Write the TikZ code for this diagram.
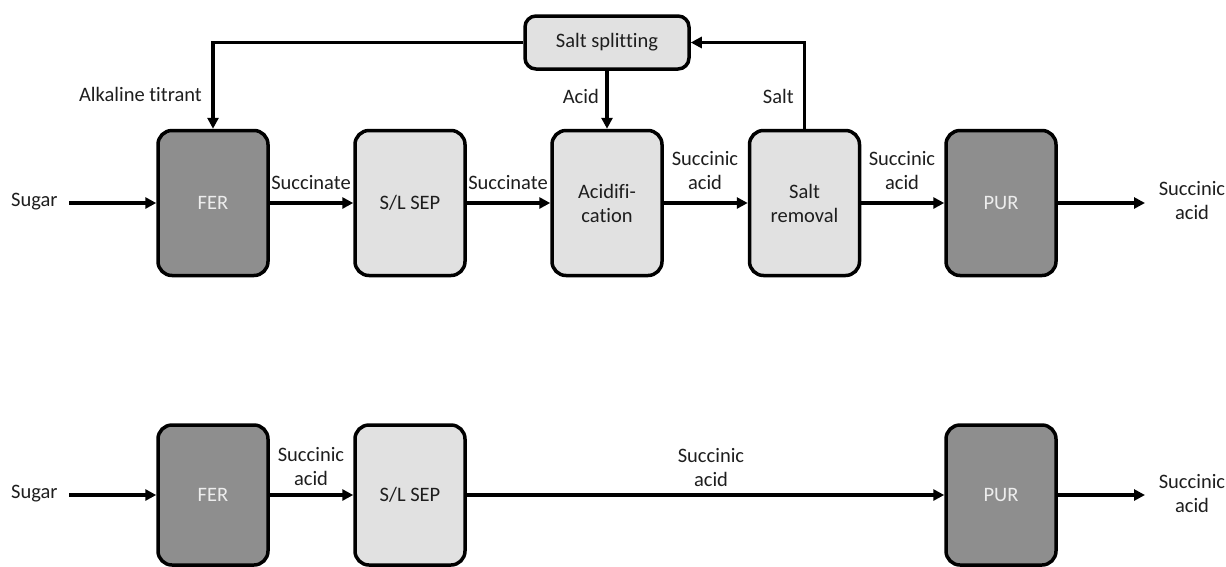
\documentclass[tikz,border=0pt]{standalone}
\usepackage{fontspec}
\setmainfont{Carlito}[Ligatures={NoCommon}]
\usetikzlibrary{arrows.meta}
\definecolor{darkbox}{HTML}{8E8E8E}
\definecolor{lightbox}{HTML}{E1E1E1}
\definecolor{txt}{HTML}{1E1E1E}
\definecolor{boxtxt}{HTML}{EDEDED}
\begin{document}
\begin{tikzpicture}[x=1pt,y=-1pt,
  box/.style={draw=black, line width=3.5pt, rounded corners=14pt, minimum width=110pt, minimum height=145pt, inner sep=0pt, align=center, font=\fontsize{20.5}{24}\selectfont, text=txt},
  darkb/.style={box, fill=darkbox, text=boxtxt},
  lightb/.style={box, fill=lightbox},
  flow/.style={line width=3.3pt, -{Triangle[length=11pt,width=11pt]}},
  lbl/.style={font=\fontsize{20.5}{24}\selectfont, text=txt, align=center, inner sep=0pt}]
\useasboundingbox (0,0) rectangle (1226,566);

% ---- top row ----
\node[darkb]  (fer1) at (213,203) {FER};
\node[lightb] (sep1) at (410,203) {S/L SEP};
\node[lightb] (acd)  at (607,203) {Acidifi-\\cation};
\node[lightb] (srm)  at (804.5,203) {Salt\\removal};
\node[darkb]  (pur1) at (1001,203) {PUR};
\node[lightb, minimum width=164pt, minimum height=53pt, rounded corners=11pt] (spl) at (607,42.5) {Salt splitting};

\node[lbl, anchor=west] (sug1) at (11,202) {Sugar};
\coordinate (in1) at (69,203);
\coordinate (out1) at (1145,203);

\draw[flow] (in1) -- (fer1.west);
\draw[flow] (fer1.east) -- (sep1.west);
\draw[flow] (sep1.east) -- (acd.west);
\draw[flow] (acd.east) -- (srm.west);
\draw[flow] (srm.east) -- (pur1.west);
\draw[flow] (pur1.east) -- (out1);
\draw[flow] (spl.west) -| (fer1.north);
\draw[flow] (spl.south) -- (acd.north);
\draw[flow] (srm.north) |- (spl.east);

\node[lbl] (l1) at (311,183) {Succinate};
\node[lbl] (l2) at (508,183) {Succinate};
\node[lbl] (l3) at (705,171) {Succinic\\acid};
\node[lbl] (l4) at (902,171) {Succinic\\acid};
\node[lbl] (l5) at (1192,201) {Succinic\\acid};
\node[lbl, anchor=east] (l6) at (202,94) {Alkaline titrant};
\node[lbl, anchor=east] (l7) at (599,96) {Acid};
\node[lbl, anchor=east] (l8) at (794,96) {Salt};

% ---- bottom row ----
\node[darkb, minimum height=140pt]  (fer2) at (213,495) {FER};
\node[lightb, minimum height=140pt] (sep2) at (410,495) {S/L SEP};
\node[darkb, minimum height=140pt]  (pur2) at (1001,495) {PUR};

\node[lbl, anchor=west] (sug2) at (11,494) {Sugar};
\coordinate (in2) at (69,495);
\coordinate (out2) at (1145,495);

\draw[flow] (in2) -- (fer2.west);
\draw[flow] (fer2.east) -- (sep2.west);
\draw[flow] (sep2.east) -- (pur2.west);
\draw[flow] (pur2.east) -- (out2);

\node[lbl] (m1) at (311,467) {Succinic\\acid};
\node[lbl] (m2) at (711,468) {Succinic\\acid};
\node[lbl] (m3) at (1192,494) {Succinic\\acid};
\end{tikzpicture}
\end{document}
